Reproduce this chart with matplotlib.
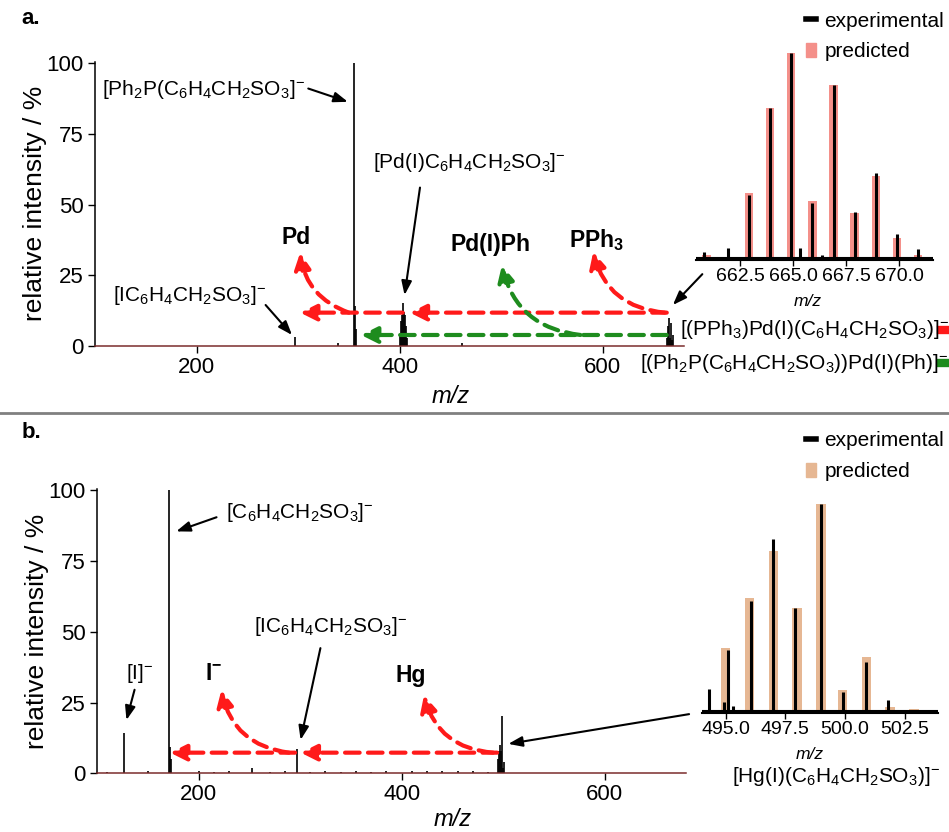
import matplotlib
matplotlib.use('Agg')
import matplotlib.pyplot as plt
from matplotlib.lines import Line2D
from matplotlib.patches import Patch

plt.rcParams['font.family'] = 'Liberation Sans'
plt.rcParams['mathtext.fontset'] = 'custom'
plt.rcParams['mathtext.rm'] = 'Liberation Sans'
plt.rcParams['mathtext.it'] = 'Liberation Sans:italic'
plt.rcParams['mathtext.bf'] = 'Liberation Sans:bold'
plt.rcParams['mathtext.default'] = 'regular'

# panel a: full spectrum (m/z, relative intensity)
mz_a = [297, 339, 355, 356, 357, 400, 401, 402, 403, 404, 405, 406, 407, 461,
        663, 664, 665, 666, 667, 668, 669]
int_a = [3.3, 1.0, 100, 14, 6, 4, 9, 11, 15.2, 12, 11, 7, 3, 1.0,
         3, 7, 10, 3, 8, 2, 4]

# panel a inset: isotope pattern of m/z 665
pred_mz_a = [660.9, 662.9, 663.9, 664.9, 665.9, 666.9, 667.9, 668.9, 669.9, 670.9]
pred_int_a = [2.4, 32.3, 73.4, 100, 28.4, 84.7, 22.9, 40.6, 10.6, 2.4]
exp_mz_a = [660.8, 661.9, 662.9, 663.9, 664.9, 665.3, 665.9, 666.35, 666.9,
            667.9, 668.9, 669.9, 670.9]
exp_int_a = [4.0, 6.0, 31.5, 73.4, 100, 5.6, 27.4, 2.4, 84.7, 23.2, 41.9, 12.4, 5.3]

# panel b: full spectrum
mz_b = [110, 127, 150, 171, 172, 173, 200, 215, 230, 253, 270, 285, 297, 310,
        325, 340, 355, 370, 385, 410, 425, 440, 455, 470, 485,
        495, 496, 497, 498, 499, 500, 501]
int_b = [0.5, 14.1, 0.7, 100, 9.4, 5, 0.8, 0.6, 0.7, 2.0, 0.6, 1.0, 8.5, 0.6,
         0.8, 0.6, 0.8, 0.6, 0.7, 0.8, 0.7, 1.0, 0.8, 0.7, 0.6,
         5, 8, 10, 8, 20.2, 2, 4]

# panel b inset: isotope pattern of m/z 499
pred_mz_b = [495.0, 496.0, 497.0, 498.0, 499.0, 499.9, 500.9, 501.9, 502.9]
pred_int_b = [31.1, 54.8, 77.5, 50.0, 100, 10.9, 26.8, 2.9, 1.6]
exp_mz_b = [494.3, 494.95, 495.1, 495.3, 496.05, 497.0, 497.9, 499.0, 499.9,
            500.9, 501.8, 502.8]
exp_int_b = [11.2, 5, 30.0, 3.4, 53.5, 83.2, 50.0, 100, 10.1, 24.4, 6.1, 1.5]

exp_baseline = 1.0

red = '#ff1a1a'
green = '#1e8c1e'
spine_red = '#7b2c2c'

fig = plt.figure(figsize=(9.49, 8.32), dpi=100)


def main_axes(rect, mz, inten):
    ax = fig.add_axes(rect)
    ax.vlines(mz, 0, inten, color='k', lw=1.2)
    ax.set_xlim(100, 680)
    ax.set_ylim(0, 100.5)
    ax.set_xticks([200, 400, 600])
    ax.set_yticks([0, 25, 50, 75, 100])
    for s in ['top', 'right']:
        ax.spines[s].set_visible(False)
    ax.spines['left'].set_linewidth(1.1)
    ax.spines['bottom'].set_linewidth(1.1)
    ax.spines['bottom'].set_color(spine_red)
    ax.tick_params(labelsize=16, length=5, width=1, pad=3)
    ax.text(-0.102, 0.5, 'relative intensity / %', rotation=90, fontsize=19,
            ha='center', va='center', transform=ax.transAxes)
    return ax


def inset_axes(rect, pmz, pint, emz, eint, col, xlim, ticks):
    ax = fig.add_axes(rect)
    ax.bar(pmz, pint, width=0.4, color=col, zorder=1)
    ax.vlines(emz, 0, eint, color='k', lw=2.2, zorder=2)
    ax.axhline(exp_baseline, color='k', lw=1.5, zorder=2)
    ax.set_xlim(*xlim)
    ax.set_ylim(0, 100.5)
    ax.set_xticks(ticks)
    ax.set_xticklabels(['%.1f' % t for t in ticks])
    ax.set_yticks([])
    for s in ['top', 'right', 'left']:
        ax.spines[s].set_visible(False)
    ax.spines['bottom'].set_linewidth(1.5)
    ax.tick_params(labelsize=14, length=4, width=1, pad=2)
    return ax


def dashed(ax, tail, head, col, rad=0.0):
    ax.annotate('', xy=head, xytext=tail,
                arrowprops=dict(arrowstyle='-|>,head_length=0.7,head_width=0.35',
                                color=col, lw=3, linestyle=(0, (3.5, 2)),
                                mutation_scale=14, shrinkA=0, shrinkB=0,
                                connectionstyle='arc3,rad=%s' % rad))


def pointer(ax, tail, head):
    ax.annotate('', xy=head, xytext=tail, annotation_clip=False,
                arrowprops=dict(arrowstyle='-|>,head_length=0.6,head_width=0.22',
                                color='k', lw=1.5, mutation_scale=14,
                                shrinkA=0, shrinkB=0))


# ---------------- panel a ----------------
ax1 = main_axes([0.1001, 0.5841, 0.6207, 0.3418], mz_a, int_a)
ax1.text(0.603, -0.177, 'm/z', style='italic', fontsize=17, ha='center',
         va='center', transform=ax1.transAxes)

ax1.text(307, 90.5, r'[Ph$_2$P(C$_6$H$_4$CH$_2$SO$_3$]$^{-}$', fontsize=15,
         ha='right', va='center')
pointer(ax1, (310, 91), (349, 86.3))
ax1.text(468.5, 64.7, r'[Pd(I)C$_6$H$_4$CH$_2$SO$_3$]$^{-}$', fontsize=15,
         ha='center', va='center')
pointer(ax1, (420, 56), (404.8, 18))
ax1.text(193.6, 18, r'[IC$_6$H$_4$CH$_2$SO$_3$]$^{-}$', fontsize=15,
         ha='center', va='center')
pointer(ax1, (268, 14.5), (294, 3.9))
pointer(ax1, (698, 25.4), (669, 14.5))

dashed(ax1, (663, 11.8), (410, 11.8), red)
dashed(ax1, (403, 11.8), (302, 11.8), red)
dashed(ax1, (663, 3.9), (362, 3.9), green)
dashed(ax1, (350, 11.8), (302, 33), red, rad=-0.3)
dashed(ax1, (661, 11.8), (590.6, 33.3), red, rad=-0.35)
dashed(ax1, (578, 3.9), (500.7, 28.6), green, rad=-0.35)
ax1.text(298, 38.5, 'Pd', fontsize=16.5, fontweight='bold', ha='center', va='center')
ax1.text(489, 36, 'Pd(I)Ph', fontsize=16.5, fontweight='bold', ha='center', va='center')
ax1.text(593.6, 37.5, r'$\mathbf{PPh_3}$', fontsize=16.5, ha='center', va='center')

ins1 = inset_axes([0.7334, 0.6875, 0.2497, 0.2500], pred_mz_a, pred_int_a,
                  exp_mz_a, exp_int_a, '#f4908a', (660.4, 671.6),
                  [662.5, 665.0, 667.5, 670.0])
ins1.text(0.473, -0.2, 'm/z', style='italic', fontsize=12.5, ha='center',
          va='center', transform=ins1.transAxes)
fig.legend(handles=[Line2D([], [], color='k', lw=4),
                    Patch(color='#f4908a')],
           labels=['experimental', 'predicted'], loc='upper left',
           bbox_to_anchor=(0.849, 0.986), frameon=False, fontsize=15,
           handlelength=0.5, handletextpad=0.4, labelspacing=0.55,
           borderpad=0, borderaxespad=0)

fig.text(0.7165, 0.6034, r'[(PPh$_3$)Pd(I)(C$_6$H$_4$CH$_2$SO$_3$)]$^{-}$',
         fontsize=15, ha='left', va='center')
fig.text(0.6744, 0.5637, r'[(Ph$_2$P(C$_6$H$_4$CH$_2$SO$_3$))Pd(I)(Ph)]$^{-}$',
         fontsize=15, ha='left', va='center')
fig.add_artist(Line2D([0.992, 1.0], [0.6034, 0.6034], color=red, lw=6,
                      transform=fig.transFigure))
fig.add_artist(Line2D([0.992, 1.0], [0.5637, 0.5637], color=green, lw=6,
                      transform=fig.transFigure))

fig.text(0.023, 0.978, 'a.', fontsize=16, fontweight='bold', ha='left', va='center')

# separator between panels
fig.add_artist(Line2D([0, 1], [0.5036, 0.5036], color='#808080', lw=2,
                      transform=fig.transFigure))

# ---------------- panel b ----------------
ax2 = main_axes([0.1022, 0.0705, 0.6207, 0.3422], mz_b, int_b)
ax2.text(0.603, -0.163, 'm/z', style='italic', fontsize=17, ha='center',
         va='center', transform=ax2.transAxes)

ax2.text(227, 91.9, r'[C$_6$H$_4$CH$_2$SO$_3$]$^{-}$', fontsize=15,
         ha='left', va='center')
pointer(ax2, (217.7, 90.4), (178, 85.4))
ax2.text(142, 35.4, r'[I]$^{-}$', fontsize=15, ha='center', va='center')
pointer(ax2, (137, 29.5), (129, 18.8))
ax2.text(330.4, 51.7, r'[IC$_6$H$_4$CH$_2$SO$_3$]$^{-}$', fontsize=15,
         ha='center', va='center')
pointer(ax2, (320, 44.2), (300.5, 11.8))
pointer(ax2, (683, 20.9), (505, 10.4))

dashed(ax2, (494, 7.3), (300.6, 7.3), red)
dashed(ax2, (295, 7.3), (172, 7.3), red)
dashed(ax2, (289, 7.3), (222.5, 29.4), red, rad=-0.35)
dashed(ax2, (490, 7.3), (422, 27.6), red, rad=-0.35)
ax2.text(214.7, 35.4, r'$\mathbf{I^{-}}$', fontsize=16.5, ha='center', va='center')
ax2.text(408.8, 34.4, 'Hg', fontsize=16.5, fontweight='bold', ha='center', va='center')

ins2 = inset_axes([0.7394, 0.1434, 0.2490, 0.2520], pred_mz_b, pred_int_b,
                  exp_mz_b, exp_int_b, '#e6b793', (494.0, 503.9),
                  [495.0, 497.5, 500.0, 502.5])
ins2.text(0.458, -0.2, 'm/z', style='italic', fontsize=12.5, ha='center',
          va='center', transform=ins2.transAxes)
fig.legend(handles=[Line2D([], [], color='k', lw=4),
                    Patch(color='#e6b793')],
           labels=['experimental', 'predicted'], loc='upper left',
           bbox_to_anchor=(0.849, 0.482), frameon=False, fontsize=15,
           handlelength=0.5, handletextpad=0.4, labelspacing=0.6,
           borderpad=0, borderaxespad=0)
fig.text(0.881, 0.067, r'[Hg(I)(C$_6$H$_4$CH$_2$SO$_3$)]$^{-}$', fontsize=15,
         ha='center', va='center')

fig.text(0.023, 0.4796, 'b.', fontsize=16, fontweight='bold', ha='left', va='center')

fig.savefig('out.png', dpi=100)
